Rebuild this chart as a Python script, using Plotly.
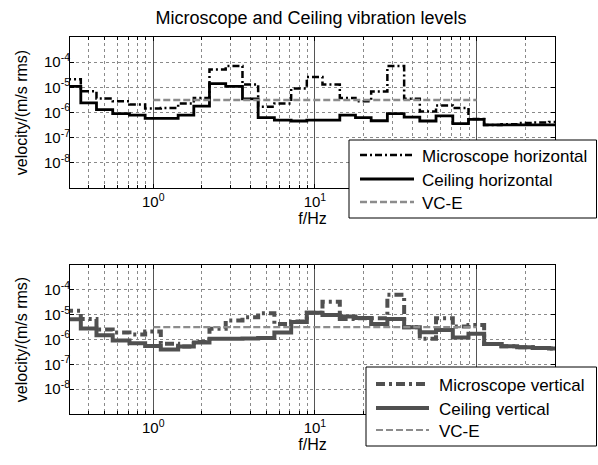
import plotly.graph_objects as go

# ---- data (1/3-octave bands) ----
BAND_CENTERS = [0.315, 0.4, 0.5, 0.63, 0.8, 1, 1.25, 1.6, 2, 2.5, 3.15, 4, 5, 6.3, 8,
                10, 12.5, 16, 20, 25, 31.5, 40, 50, 63, 80, 100, 125, 160, 200, 250, 315]

MICRO_H = [2.1e-5, 7e-6, 3.6e-6, 2.8e-6, 2.1e-6, 1.45e-6, 1.5e-6, 2.3e-6, 3.8e-6, 5.1e-5,
           7e-5, 1.3e-5, 1.7e-6, 2.3e-6, 8.9e-6, 2.6e-5, 1.3e-5, 3.8e-6, 2.8e-6, 6.9e-6,
           7e-5, 3.5e-6, 1.1e-6, 1.9e-6, 1.5e-6, 5.5e-7, 3.2e-7, 3.4e-7, 3.8e-7, 4e-7, 4.2e-7]
CEIL_H = [1.1e-5, 2.4e-6, 1.3e-6, 9e-7, 7.8e-7, 5.8e-7, 5.8e-7, 7.8e-7, 1.8e-6, 1.4e-5,
          1.1e-5, 3.5e-6, 6.2e-7, 5e-7, 4.6e-7, 5e-7, 5e-7, 7.8e-7, 6.3e-7, 4.7e-7,
          9.1e-7, 6.6e-7, 4.6e-7, 7.4e-7, 3.6e-7, 5.3e-7, 3.2e-7, 3.2e-7, 3.2e-7, 3.2e-7, 3.2e-7]
MICRO_V = [1.45e-5, 6.7e-6, 2.5e-6, 1.9e-6, 1.6e-6, 2.1e-6, 6.7e-7, 5.2e-7, 8e-7, 2.7e-6,
           5.8e-6, 7.8e-6, 1.15e-5, 4.2e-6, 5.3e-6, 1.2e-5, 3.3e-5, 6.7e-6, 7.2e-6, 7.2e-6,
           6.3e-5, 3.1e-6, 1.07e-6, 7.1e-6, 3.3e-6, 3.8e-6, 6.6e-7, 5.4e-7, 4.9e-7, 4.5e-7, 4.3e-7]
CEIL_V = [6.5e-6, 2.8e-6, 1.5e-6, 9.1e-7, 7e-7, 5.5e-7, 4e-7, 5.2e-7, 7.6e-7, 1.07e-6,
          1.07e-6, 1.1e-6, 1.15e-6, 1.9e-6, 5.1e-6, 1.2e-5, 9.7e-6, 8.5e-6, 7.3e-6, 4.2e-6,
          6.7e-6, 3.1e-6, 1.95e-6, 2.4e-6, 1.2e-6, 1.7e-6, 6.6e-7, 5.4e-7, 4.9e-7, 4.5e-7, 4.3e-7]

VCE_FREQ = [1, 100]
VCE_LEVEL = 3.125e-6

Y_TICKS = [1e-8, 1e-7, 1e-6, 1e-5, 1e-4]
Y_TICK_LABELS = ["10<sup>-8</sup>", "10<sup>-7</sup>", "10<sup>-6</sup>", "10<sup>-5</sup>", "10<sup>-4</sup>"]
X_TICKS = [1, 10, 100]
X_TICK_LABELS = ["10<sup>0</sup>", "10<sup>1</sup>", ""]  # 10^2 label is hidden behind the legend
X_MINOR = [0.4, 0.5, 0.6, 0.7, 0.8, 0.9, 2, 3, 4, 5, 6, 7, 8, 9,
           20, 30, 40, 50, 60, 70, 80, 90, 200]

TITLE = "Microscope and Ceiling vibration levels"
LEG_TOP = ["Microscope horizontal", "Ceiling horizontal", "VC-E"]
LEG_BOT = ["Microscope vertical", "Ceiling vertical", "VC-E"]

# band edges (lower edge of each band plus upper edge of the last one)
EDGES = [c * 2 ** (-1 / 6) for c in BAND_CENTERS] + [BAND_CENTERS[-1] * 2 ** (1 / 6)]


def stairs(vals):
    return EDGES, list(vals) + [vals[-1]]


FONT = "Liberation Sans, Arial, sans-serif"
W, H = 598, 465
L, R, T, B = 70, 43, 37, 51
PW, PH = W - L - R, H - T - B

BLACK = "black"
DGRAY = "#505050"
VGRAY = "#8c8c8c"
DASHDOT_TOP = "7px,3px,2px,3px"
DASHDOT_BOT = "9px,4px,3px,4px"
DASH_VCE = "7px,3px"

fig = go.Figure()

# top panel
x, y = stairs(MICRO_H)
fig.add_trace(go.Scatter(x=x, y=y, mode="lines", line=dict(color=BLACK, width=2.5, dash=DASHDOT_TOP, shape="hv"),
                         xaxis="x", yaxis="y", showlegend=False))
x, y = stairs(CEIL_H)
fig.add_trace(go.Scatter(x=x, y=y, mode="lines", line=dict(color=BLACK, width=2.8, shape="hv"),
                         xaxis="x", yaxis="y", showlegend=False))
fig.add_trace(go.Scatter(x=VCE_FREQ, y=[VCE_LEVEL, VCE_LEVEL], mode="lines",
                         line=dict(color=VGRAY, width=2.5, dash=DASH_VCE), xaxis="x", yaxis="y", showlegend=False))

# bottom panel
x, y = stairs(MICRO_V)
fig.add_trace(go.Scatter(x=x, y=y, mode="lines", line=dict(color=DGRAY, width=4, dash=DASHDOT_BOT, shape="hv"),
                         xaxis="x2", yaxis="y2", showlegend=False))
x, y = stairs(CEIL_V)
fig.add_trace(go.Scatter(x=x, y=y, mode="lines", line=dict(color=DGRAY, width=4, shape="hv"),
                         xaxis="x2", yaxis="y2", showlegend=False))
fig.add_trace(go.Scatter(x=VCE_FREQ, y=[VCE_LEVEL, VCE_LEVEL], mode="lines",
                         line=dict(color=VGRAY, width=2.2, dash=DASH_VCE), xaxis="x2", yaxis="y2", showlegend=False))

top_dom = [(414 - 188) / PH, 1.0]
bot_dom = [0.0, (414 - 265) / PH]

xax = dict(type="log", range=[-0.515, 2.485], tickmode="array", tickvals=X_TICKS, ticktext=X_TICK_LABELS,
           ticks="inside", ticklen=4, tickcolor="black", showline=True, linecolor="black", linewidth=1,
           mirror="ticks", showgrid=True, gridcolor="#555", gridwidth=1, zeroline=False, automargin=False,
           tickfont=dict(family=FONT, size=15, color="black"),
           title=dict(text="f/Hz", font=dict(family=FONT, size=16, color="black"), standoff=2),
           minor=dict(tickmode="array", tickvals=X_MINOR, ticks="inside", ticklen=3, tickcolor="black",
                      showgrid=True, gridcolor="#8a8a8a", griddash="dot", gridwidth=1))
yax = dict(type="log", range=[-9, -3], tickmode="array", tickvals=Y_TICKS, ticktext=Y_TICK_LABELS,
           ticks="inside", ticklen=4, tickcolor="black", showline=True, linecolor="black", linewidth=1,
           mirror="ticks", showgrid=True, gridcolor="#8a8a8a", griddash="dot", gridwidth=1, zeroline=False,
           automargin=False, ticklabelstandoff=-4,
           tickfont=dict(family=FONT, size=15, color="black"),
           title=dict(text="velocity/(m/s rms)", font=dict(family=FONT, size=16, color="black"), standoff=12))

fig.update_layout(
    width=W, height=H, margin=dict(l=L, r=R, t=T, b=B),
    paper_bgcolor="white", plot_bgcolor="white",
    font=dict(family=FONT, color="black"),
    title=dict(text=TITLE, x=311 / W, xref="container", xanchor="center",
               y=1 - 18 / H, yref="container", yanchor="middle",
               font=dict(family=FONT, size=18, color="black"), automargin=False),
    xaxis=dict(xax, anchor="y", domain=[0, 1]),
    yaxis=dict(yax, anchor="x", domain=top_dom),
    xaxis2=dict(xax, anchor="y2", domain=[0, 1]),
    yaxis2=dict(yax, anchor="x2", domain=bot_dom),
    showlegend=False,
)


def px2paper(px, py):
    return (px - L) / PW, (H - B - py) / PH


shapes = []
annos = []


def add_legend(box, rows, line_x, text_x, labels, styles):
    x0, y0 = px2paper(box[0], box[1])
    x1, y1 = px2paper(box[2], box[3])
    shapes.append(dict(type="rect", xref="paper", yref="paper", x0=x0, y0=y1, x1=x1, y1=y0,
                       line=dict(color="black", width=1), fillcolor="white", layer="above"))
    for ry, lab, st in zip(rows, labels, styles):
        lx0, ly = px2paper(line_x[0], ry)
        lx1, _ = px2paper(line_x[1], ry)
        shapes.append(dict(type="line", xref="paper", yref="paper", x0=lx0, x1=lx1, y0=ly, y1=ly,
                           line=st, layer="above"))
        tx, ty = px2paper(text_x, ry + 1)
        annos.append(dict(text=lab, xref="paper", yref="paper", x=tx, y=ty, xanchor="left", yanchor="middle",
                          showarrow=False, font=dict(family=FONT, size=17, color="black")))


add_legend((349, 140, 596.5, 218), [155, 179, 202], (360, 414), 420, LEG_TOP,
           [dict(color=BLACK, width=2.5, dash=DASHDOT_TOP), dict(color=BLACK, width=2.8),
            dict(color=VGRAY, width=2.5, dash=DASH_VCE)])
add_legend((366, 367, 596.5, 446), [384, 408, 430], (376, 429), 437, LEG_BOT,
           [dict(color=DGRAY, width=4, dash=DASHDOT_BOT), dict(color=DGRAY, width=4),
            dict(color=VGRAY, width=2.2, dash=DASH_VCE)])

fig.update_layout(shapes=shapes, annotations=annos)
fig.write_html("out.html", config={"displayModeBar": False},
               post_script="document.body.style.margin='0';document.body.style.overflow='hidden';")
